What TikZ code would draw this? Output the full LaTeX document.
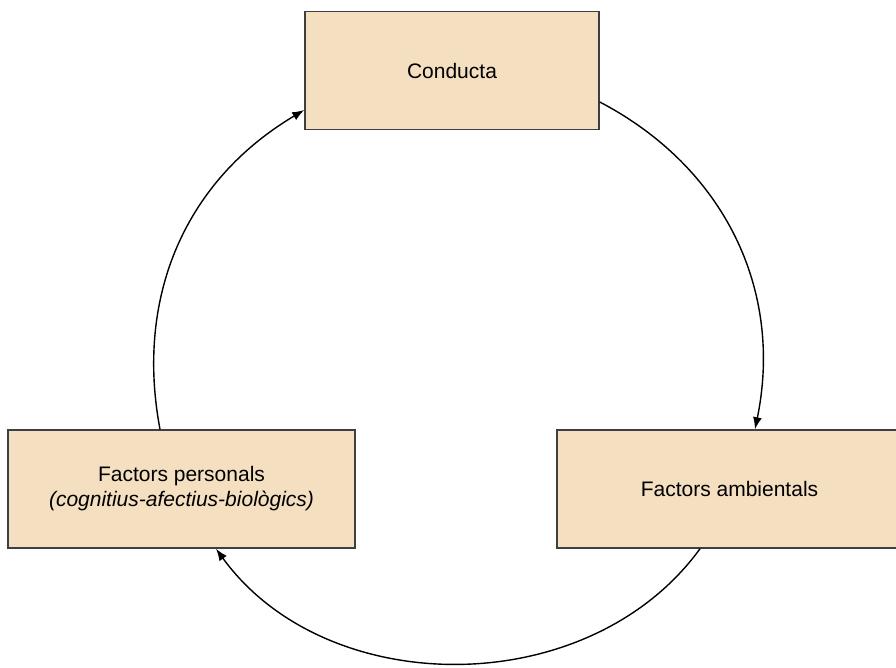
\documentclass[tikz,border=0pt]{standalone}
\usepackage{fontspec}
\setmainfont{Liberation Sans}
\usepackage{tikz}
\usetikzlibrary{calc, arrows.meta}

\definecolor{boxfill}{HTML}{F4E0C1}
\definecolor{boxline}{HTML}{3F3F3F}

\tikzset{
	factorbox/.style={draw=boxline, line width=1.5pt, fill=boxfill, rectangle,
		inner sep=0pt, minimum height=118pt, align=center,
		font=\fontsize{21}{25}\selectfont},
	cycle/.style={->, line width=1.4pt, >={Latex[length=12pt, width=9pt]}}
}

\begin{document}
\begin{tikzpicture}[x=1pt, y=-1pt]
	\def \rad {302}

	\useasboundingbox (0,0) rectangle (896,668);

	\node[factorbox, minimum width=294pt] (conducta)   at (452,70.5)
		{Conducta};
	\node[factorbox, minimum width=347pt] (personals)  at (181.5,489)
		{Factors personals\\\textit{(cognitius-afectius-biològics)}};
	\node[factorbox, minimum width=345pt] (ambientals) at (729.5,489)
		{Factors ambientals};

	\draw[cycle] ($(conducta.east)+(0,31.5)$)
		to[bend left=37] ($(ambientals.north)+(25.5,0)$);
	\draw[cycle] ($(ambientals.south)+(-29.5,0)$)
		to[bend left=54] ($(personals.south)+(34.5,0)$);
	\draw[cycle] ($(personals.north)+(-21.5,0)$)
		to[bend left=35] ($(conducta.west)+(0,39.5)$);
\end{tikzpicture}
\end{document}
